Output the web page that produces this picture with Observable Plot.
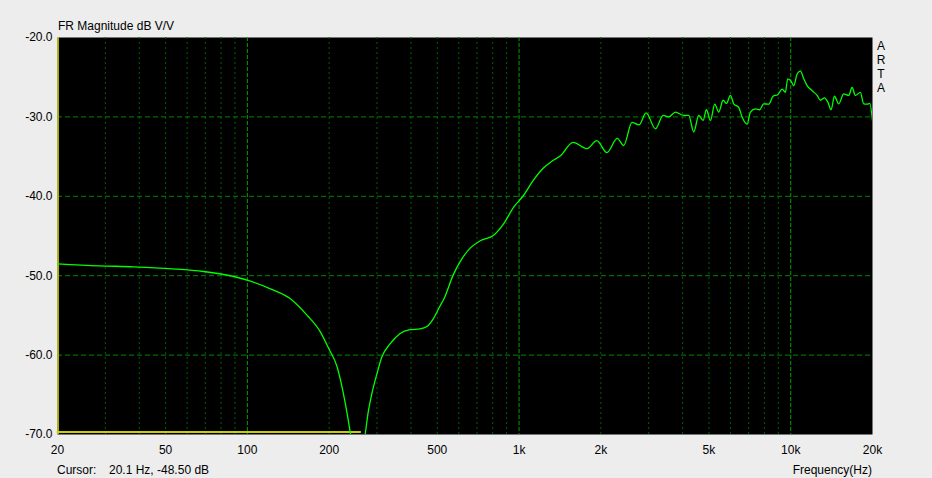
<!DOCTYPE html>
<html><head><meta charset="utf-8">
<script src="https://cdn.jsdelivr.net/npm/d3@7"></script>
<script src="https://cdn.jsdelivr.net/npm/@observablehq/plot@0.6"></script>
<style>
html,body{margin:0;padding:0;background:#ededed;}
#chart{position:relative;width:932px;height:478px;}
svg text{font-family:'Liberation Sans',Arial,sans-serif;}
</style></head><body><div id="chart"></div>
<script>
// Frequency response curve (Hz, dB)
const curveHz = [20, 28.4, 38.2, 52.9, 69, 89, 102.6, 121.6, 144, 166, 185.8, 199.4, 214, 223, 233, 239.6, 255, 271.6, 279, 287, 299.6, 312, 335, 364, 397, 432, 458, 484, 513, 526, 574, 610, 662, 720, 806, 876, 954, 1038, 1128, 1224, 1332, 1420, 1580, 1780, 1932, 2106, 2298, 2428, 2604, 2764, 2936, 3178, 3392, 3556, 3764, 4038, 4212, 4396, 4586, 4758, 4894, 5064, 5252, 5432, 5638, 5800, 5998, 6168, 6436, 6622, 6908, 7106, 7414, 7688, 7952, 8298, 8612, 8956, 9296, 9558, 9748, 10032, 10258, 10556, 10856, 11164, 11490, 11988, 12508, 12864, 13306, 13684, 14084, 14484, 15020, 15668, 16346, 16824, 17298, 18048, 18560, 19104, 19532, 20000];
const curveDb = [-48.5, -48.75, -48.88, -49.13, -49.47, -50.1, -50.69, -51.65, -52.9, -55.0, -57.1, -59.2, -61.5, -64.0, -67.4, -69.9, -76, -69.9, -67.0, -64.9, -62.4, -60.3, -58.6, -57.3, -56.8, -56.7, -56.4, -55.4, -53.75, -53.1, -49.8, -48.1, -46.5, -45.6, -44.9, -43.5, -41.4, -39.9, -38.0, -36.5, -35.5, -34.9, -33.2, -34.0, -33.0, -34.5, -32.7, -33.6, -30.7, -31.0, -29.5, -31.5, -29.8, -30.0, -29.4, -29.8, -29.8, -31.9, -29.8, -30.45, -29.1, -30.45, -28.4, -29.4, -27.9, -28.3, -27.3, -28.35, -28.8, -30.0, -30.9, -29.4, -29.0, -29.1, -28.35, -28.4, -27.4, -27.2, -26.5, -26.9, -25.2, -25.5, -26.05, -24.6, -24.2, -25.2, -26.05, -26.7, -27.3, -27.9, -27.6, -28.1, -29.1, -27.4, -28.35, -27.1, -27.3, -26.3, -27.3, -26.9, -28.35, -28.4, -28.3, -30.45];

// Second (yellow) trace, pinned at the bottom
const overlayHz = [20, 260];
const overlayDb = [-69.7, -69.7];

// Cursor
const cursorHz = 20.1;
const cursorDb = -48.50;

// Axes / grid
const xTicks = [20, 50, 100, 200, 500, 1000, 2000, 5000, 10000, 20000];
const xTickLabels = ["20", "50", "100", "200", "500", "1k", "2k", "5k", "10k", "20k"];
const yTicks = [-20, -30, -40, -50, -60, -70];
const minorGridHz = [30, 40, 50, 60, 70, 80, 90, 200, 300, 400, 500, 600, 700, 800, 900, 2000, 3000, 4000, 5000, 6000, 7000, 8000, 9000];
const majorGridHz = [100, 1000, 10000];
const gridDb = [-30, -40, -50, -60];

const titleText = "FR Magnitude dB V/V";
const sideText = ["A", "R", "T", "A"];
const xLabel = "Frequency(Hz)";

const curve = curveHz.map((f, i) => ({f, db: curveDb[i]}));
const overlay = overlayHz.map((f, i) => ({f, db: overlayDb[i]}));
const xLab = xTicks.map((f, i) => ({f, t: xTickLabels[i]}));

const W = 932, H = 478, mL = 57, mR = 60, mT = 37, mB = 44;

const chart = Plot.plot({
  width: W, height: H,
  marginLeft: mL, marginRight: mR, marginTop: mT, marginBottom: mB,
  style: {background: "transparent", fontFamily: "'Liberation Sans', Arial, sans-serif", fontSize: "12px", color: "#000"},
  x: {type: "log", domain: [20, 20000], axis: null},
  y: {domain: [-70, -20]},
  marks: [
    Plot.frame({fill: "#000", stroke: "none"}),
    Plot.ruleX(minorGridHz, {stroke: "#006000", strokeDasharray: "2,3"}),
    Plot.ruleX(majorGridHz, {stroke: "#00a000", strokeDasharray: "4,2"}),
    Plot.ruleY(gridDb, {stroke: "#008800", strokeDasharray: "5,3"}),
    Plot.line(overlay, {x: "f", y: "db", stroke: "#cccc00", strokeWidth: 2}),
    Plot.ruleX([cursorHz], {stroke: "#cccc00", strokeWidth: 1.5}),
    Plot.line(curve, {x: "f", y: "db", stroke: "#00ff00", strokeWidth: 1.3, curve: "monotone-x", clip: true}),
    Plot.text(xLab, {x: "f", text: "t", frameAnchor: "bottom", lineAnchor: "top", dy: 11, fontSize: 12, fill: "#000"}),
    Plot.axisY(yTicks, {tickSize: 0, tickPadding: 5, fontSize: 12, label: null,
      tickFormat: d => d.toFixed(1)})
  ]
});

const svg = d3.select(chart);
svg.selectAll("text").attr("fill", "#000");
const add = (x, y, t, anchor = "start") => svg.append("text")
  .attr("x", x).attr("y", y).attr("text-anchor", anchor)
  .attr("font-size", 12).attr("fill", "#000").text(t);

add(58, 30, titleText);
sideText.forEach((c, i) => add(881, 49.5 + i * 14, c, "middle"));
add(57, 474, "Cursor:");
add(109, 474, `${cursorHz} Hz, ${cursorDb.toFixed(2)} dB`);
add(872, 474, xLabel, "end");

document.getElementById("chart").appendChild(chart);
</script>
</body></html>
